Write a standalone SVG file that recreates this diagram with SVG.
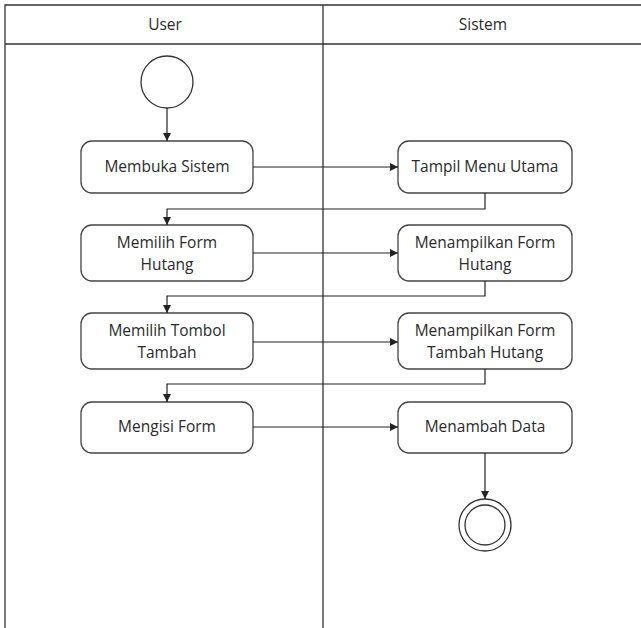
<svg xmlns="http://www.w3.org/2000/svg" width="641" height="628" viewBox="0 0 641 628">
<defs>
<marker id="ah" viewBox="0 0 10 10" refX="10" refY="5" markerWidth="8" markerHeight="8" markerUnits="userSpaceOnUse" orient="auto">
<path d="M0,0 L10,5 L0,10 z" fill="#222"/>
</marker>
<style>
.lane{fill:none;stroke:#333;stroke-width:1.3}
.box{fill:#fff;stroke:#444;stroke-width:1.3}
.t{font-family:"Open Sans","Liberation Sans",sans-serif;font-size:15.5px;fill:#2a2a2a;text-anchor:middle}
.c{fill:none;stroke:#222;stroke-width:1.2}
.ev{fill:#fff;stroke:#333;stroke-width:1.3}
</style>
</defs>
<rect width="641" height="628" fill="#fff"/>
<g id="swimlanes">
<path class="lane" d="M5,628 V5 H641 M5,44 H641 M323,5 V628"/>
<text class="t" x="165" y="30">User</text>
<text class="t" x="483" y="30">Sistem</text>
</g>
<g id="start"><circle class="ev" cx="167" cy="82" r="26"/></g>
<g id="n1"><rect class="box" x="81" y="141" width="172" height="52" rx="11"/><text class="t" x="167" y="172">Membuka Sistem</text></g>
<g id="n2"><rect class="box" x="81" y="225" width="172" height="56" rx="11"/><text class="t" x="167" y="248">Memilih Form</text><text class="t" x="167" y="270">Hutang</text></g>
<g id="n3"><rect class="box" x="81" y="313" width="172" height="56" rx="11"/><text class="t" x="167" y="336">Memilih Tombol</text><text class="t" x="167" y="358">Tambah</text></g>
<g id="n4"><rect class="box" x="81" y="402" width="172" height="51" rx="11"/><text class="t" x="167" y="432">Mengisi Form</text></g>
<g id="s1"><rect class="box" x="398" y="141" width="174" height="52" rx="11"/><text class="t" x="485" y="172">Tampil Menu Utama</text></g>
<g id="s2"><rect class="box" x="398" y="225" width="174" height="56" rx="11"/><text class="t" x="485" y="248">Menampilkan Form</text><text class="t" x="485" y="270">Hutang</text></g>
<g id="s3"><rect class="box" x="398" y="313" width="174" height="56" rx="11"/><text class="t" x="485" y="336">Menampilkan Form</text><text class="t" x="485" y="358">Tambah Hutang</text></g>
<g id="s4"><rect class="box" x="398" y="402" width="174" height="51" rx="11"/><text class="t" x="485" y="432">Menambah Data</text></g>
<g id="end"><circle class="ev" cx="485" cy="525" r="26"/><circle class="ev" cx="485" cy="525" r="20"/></g>
<g id="connectors">
<path class="c" d="M167,108 V141" marker-end="url(#ah)"/>
<path class="c" d="M253,167 H398" marker-end="url(#ah)"/>
<path class="c" d="M485,193 V209 H167 V225" marker-end="url(#ah)"/>
<path class="c" d="M253,253 H398" marker-end="url(#ah)"/>
<path class="c" d="M485,281 V296 H167 V313" marker-end="url(#ah)"/>
<path class="c" d="M253,342 H398" marker-end="url(#ah)"/>
<path class="c" d="M485,369 V384 H167 V402" marker-end="url(#ah)"/>
<path class="c" d="M253,427 H398" marker-end="url(#ah)"/>
<path class="c" d="M485,453 V499" marker-end="url(#ah)"/>
</g>
</svg>
